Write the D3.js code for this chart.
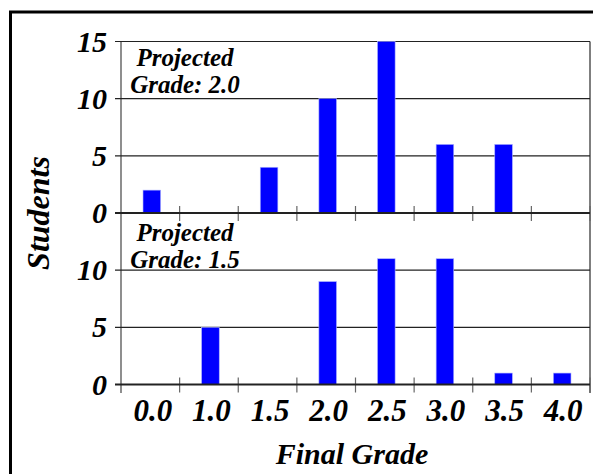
<!DOCTYPE html>
<html>
<head>
<meta charset="utf-8">
<script src="https://cdn.jsdelivr.net/npm/d3@7"></script>
<style>
  html, body { margin: 0; padding: 0; background: #fff; }
  svg { display: block; }
  text { font-family: "Liberation Serif", "Times New Roman", serif; font-weight: bold; font-style: italic; fill: #000; }
</style>
</head>
<body>
<svg id="chart" width="593" height="474"></svg>
<script>
const categories = ["0.0", "1.0", "1.5", "2.0", "2.5", "3.0", "3.5", "4.0"];
const projected20 = [2, 0, 4, 10, 15, 6, 6, 0];
const projected15 = [0, 5, 0, 9, 11, 11, 1, 1];
const panelTitles = [["Projected", "Grade: 2.0"], ["Projected", "Grade: 1.5"]];
const topTicks = [0, 5, 10, 15];
const bottomTicks = [0, 5, 10];
const xTitle = "Final Grade";
const yTitle = "Students";

const svg = d3.select("#chart");

// outer frame
svg.append("rect")
  .attr("x", 10.5).attr("y", 12).attr("width", 620).attr("height", 500)
  .attr("fill", "none").attr("stroke", "#000").attr("stroke-width", 3);

const left = 121, right = 590;
const x = d3.scaleBand().domain(categories).range([left, right]).paddingInner(0).paddingOuter(0);
const barW = x.bandwidth() * 0.3;

const panels = [
  { values: projected20, ticks: topTicks, y: d3.scaleLinear().domain([0, 15]).range([213, 41.5]), title: panelTitles[0], titleOffset: 24.5 },
  { values: projected15, ticks: bottomTicks, y: d3.scaleLinear().domain([0, 15]).range([384.5, 213]), title: panelTitles[1], titleOffset: 27.5 }
];

// left and right vertical borders
svg.append("line").attr("x1", left).attr("x2", left).attr("y1", 41.5).attr("y2", 393)
  .attr("stroke", "#444").attr("stroke-width", 1.2);
svg.append("line").attr("x1", right).attr("x2", right).attr("y1", 41.5).attr("y2", 393)
  .attr("stroke", "#555").attr("stroke-width", 1.5);

panels.forEach(p => {
  const g = svg.append("g");
  g.selectAll("line.grid").data(p.ticks.filter(t => t > 0)).join("line")
    .attr("x1", left - 6).attr("x2", right)
    .attr("y1", d => p.y(d)).attr("y2", d => p.y(d))
    .attr("stroke", "#222").attr("stroke-width", 1.2);

  g.selectAll("rect.bar").data(categories).join("rect")
    .attr("x", d => x(d) + x.bandwidth() / 2 - barW / 2 + 1.5)
    .attr("width", barW)
    .attr("y", (d, i) => p.y(p.values[i]))
    .attr("height", (d, i) => p.y(0) - p.y(p.values[i]))
    .attr("fill", "#0000ff")
    .attr("stroke", "#aab0ff").attr("stroke-width", 0.6);

  const bounds = categories.map(c => x(c)).concat([right]);
  g.selectAll("line.xt").data(bounds.slice(1)).join("line")
    .attr("x1", d => d).attr("x2", d => d)
    .attr("y1", p.y(0) - 7).attr("y2", p.y(0) + 8)
    .attr("stroke", "#666").attr("stroke-width", 1.2);

  g.append("line").attr("x1", left - 6).attr("x2", right)
    .attr("y1", p.y(0)).attr("y2", p.y(0))
    .attr("stroke", "#222").attr("stroke-width", 2);

  g.selectAll("text.yl").data(p.ticks).join("text")
    .attr("x", 107).attr("y", d => p.y(d) + 10)
    .attr("text-anchor", "end")
    .attr("font-size", 30)
    .text(d => d);

  const t = g.append("text").attr("font-size", 25).attr("text-anchor", "middle");
  p.title.forEach((line, i) => {
    t.append("tspan").attr("x", 185).attr("y", p.y(15) + p.titleOffset + i * 27).text(line);
  });
});

svg.selectAll("text.xl").data(categories).join("text")
  .attr("x", d => x(d) + x.bandwidth() / 2 + 2.5)
  .attr("y", 421)
  .attr("text-anchor", "middle")
  .attr("font-size", 31)
  .text(d => d);

svg.append("text").attr("x", 352).attr("y", 464).attr("text-anchor", "middle")
  .attr("font-size", 30).text(xTitle);
svg.append("text").attr("transform", "translate(49,213) rotate(-90)")
  .attr("text-anchor", "middle").attr("font-size", 32).text(yTitle);
</script>
</body>
</html>
